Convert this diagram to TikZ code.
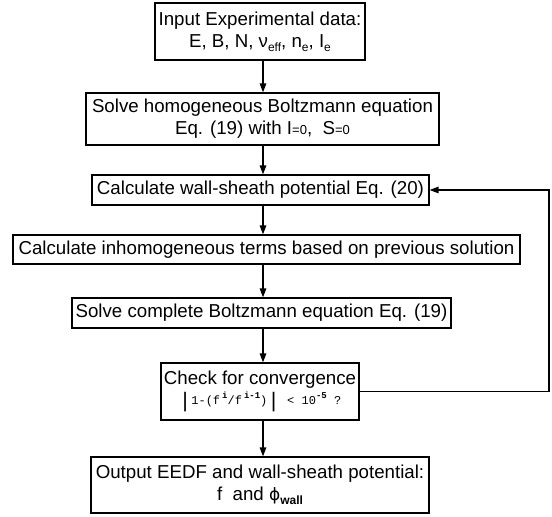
\documentclass[tikz,border=0pt]{standalone}
\usepackage{fontspec}
\setmainfont{Liberation Sans}
\newfontfamily\eqfont{Liberation Mono}
\newfontfamily\phifont{DejaVu Sans}
\usetikzlibrary{arrows.meta}
\newcommand\mysub[1]{\raisebox{-4bp}{\fontsize{12bp}{12bp}\selectfont #1}}
\newcommand\mysm[1]{{\fontsize{13bp}{13bp}\selectfont #1}}
\newcommand\mysup[1]{\raisebox{6bp}{\fontsize{9bp}{9bp}\selectfont\bfseries #1}}
\newcommand\tallbar{{\fontsize{21bp}{21bp}\selectfont\raisebox{-3bp}{|}}}
\begin{document}
\begin{tikzpicture}[x=1bp,y=-1bp,
  box/.style={draw, line width=1.2bp, inner sep=0pt, align=center,
    font=\fontsize{18.7bp}{22bp}\selectfont},
  arr/.style={line width=1.4bp, -{Triangle[length=9bp,width=6.5bp]}}]
\useasboundingbox (0,0) rectangle (552,517);
\fill[white] (0,0) rectangle (552,517);
\node[box, minimum width=210bp, minimum height=57bp] (n1) at (260,31.5)
  {Input Experimental data:\\E, B, N, ν\mysub{eff}, n\mysub{e}, I\mysub{e}};
\node[box, minimum width=353bp, minimum height=52bp] (n2) at (262.5,119)
  {Solve homogeneous Boltzmann equation\\Eq. (19) with I\mysm{=0},\ \ S\mysm{=0}};
\node[box, minimum width=337bp, minimum height=30bp] (n3) at (260.5,190)
  {Calculate wall-sheath potential Eq. (20)};
\node[box, minimum width=507bp, minimum height=29bp] (n4) at (266.5,249.5)
  {Calculate inhomogeneous terms based on previous solution};
\node[box, minimum width=379bp, minimum height=30bp] (n5) at (261.5,313)
  {Solve complete Boltzmann equation Eq. (19)};
\node[box, minimum width=198bp, minimum height=57bp] (n6) at (260,391.5)
  {Check for convergence\\[-2bp]{\eqfont\fontsize{12bp}{12bp}\selectfont\tallbar 1-(f\,\mysup{i}/f\,\mysup{i-1})\tallbar{} < 10\mysup{-5} ?}};
\node[box, minimum width=338bp, minimum height=56bp] (n7) at (260,485)
  {Output EEDF and wall-sheath potential:\\f\ \ and {\phifont\fontsize{17bp}{17bp}\selectfont ϕ}\mysub{\bfseries wall}};
\coordinate (ax) at (263,0);
\coordinate (fb) at (549,0);
\draw[arr] (n1.south -| ax) -- (n2.north -| ax);
\draw[arr] (n2.south -| ax) -- (n3.north -| ax);
\draw[arr] (n3.south -| ax) -- (n4.north -| ax);
\draw[arr] (n4.south -| ax) -- (n5.north -| ax);
\draw[arr] (n5.south -| ax) -- (n6.north -| ax);
\draw[arr] (n6.south -| ax) -- (n7.north -| ax);
\draw[arr] (n6.east) -- (n6.east -| fb) -- (n3.east -| fb) -- (n3.east);
\end{tikzpicture}
\end{document}
